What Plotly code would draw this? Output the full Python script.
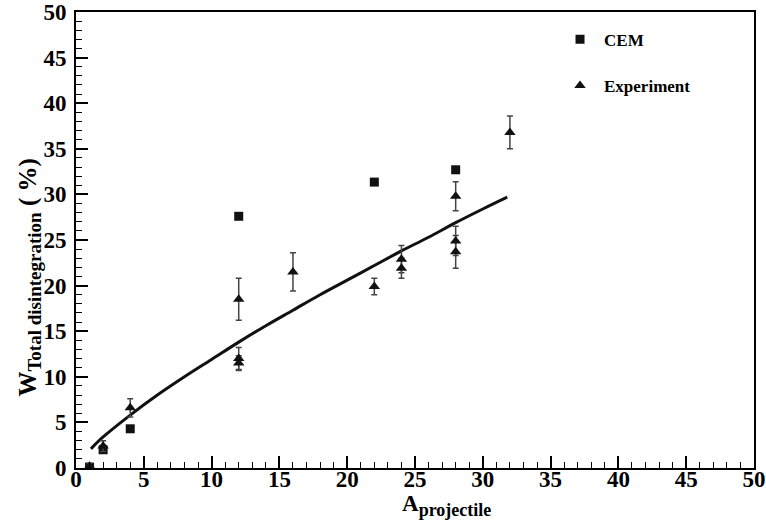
import plotly.graph_objects as go

# CEM calculation
cem_x = [1, 2, 4, 12, 22, 28]
cem_y = [0.1, 2.0, 4.3, 27.6, 31.35, 32.7]

# Experimental data
exp_x = [1, 2, 4, 12, 12, 12, 16, 22, 24, 24, 28, 28, 28, 32]
exp_y = [0.2, 2.4, 6.6, 18.5, 12.0, 11.5, 21.5, 19.9, 22.9, 21.9, 29.8, 24.9, 23.7, 36.8]
exp_err = [0.3, 0.6, 1.0, 2.3, 1.2, 0.8, 2.1, 0.9, 1.5, 1.1, 1.6, 1.6, 1.8, 1.8]

# Fit curve
fit_x = [1.1, 2, 4, 6, 8, 10, 12, 14, 16, 18, 20, 22, 24, 26, 28, 30, 31.8]
fit_y = [2.1, 3.4, 5.8, 8.0, 10.0, 11.9, 13.8, 15.6, 17.3, 19.0, 20.6, 22.2, 23.8, 25.3, 26.9, 28.4, 29.7]

x_ticks = [0, 5, 10, 15, 20, 25, 30, 35, 40, 45, 50]
y_ticks = [0, 5, 10, 15, 20, 25, 30, 35, 40, 45, 50]

FONT = "Liberation Serif"

fig = go.Figure()

fig.add_trace(go.Scatter(
    x=fit_x, y=fit_y, mode="lines", line=dict(color="#111111", width=3, shape="spline"),
    showlegend=False, hoverinfo="skip"))

fig.add_trace(go.Scatter(
    x=cem_x, y=cem_y, mode="markers", name="CEM",
    marker=dict(symbol="square", size=9, color="#111111"),
    legend="legend"))

fig.add_trace(go.Scatter(
    x=exp_x, y=exp_y, mode="markers", name="Experiment",
    marker=dict(symbol="triangle-up", size=10, color="#111111"),
    error_y=dict(type="data", array=exp_err, visible=True, color="#444444", thickness=1.5, width=3),
    legend="legend2"))

axis_common = dict(
    range=[0, 50], showgrid=False, zeroline=False, automargin=False,
    showline=True, linecolor="black", linewidth=2, mirror=True,
    ticks="inside", ticklen=12, tickwidth=1.5, tickcolor="black",
    tickfont=dict(family=FONT, size=23, color="black", weight="bold"),
    tickmode="array",
    minor=dict(ticks="inside", ticklen=6, tickwidth=1.2, tickcolor="black", dtick=1),
)

legend_font = dict(family=FONT, size=17, color="black", weight="bold")

fig.update_layout(
    width=766, height=527,
    margin=dict(l=76, r=12, t=12, b=59),
    paper_bgcolor="white", plot_bgcolor="white",
    font=dict(family=FONT, color="black"),
    xaxis=dict(**axis_common, tickvals=x_ticks, ticklabelstandoff=-11),
    yaxis=dict(**axis_common, tickvals=y_ticks, ticklabelstandoff=3),
    legend=dict(x=0.708, y=0.939, xanchor="left", yanchor="middle",
                bgcolor="rgba(0,0,0,0)", itemwidth=38, font=legend_font),
    legend2=dict(x=0.708, y=0.838, xanchor="left", yanchor="middle",
                 bgcolor="rgba(0,0,0,0)", itemwidth=38, font=legend_font),
    annotations=[
        dict(text="<b>A<sub><span style='font-size:18px'>projectile</span></sub></b>",
             xref="paper", yref="paper",
             x=0.546, y=-0.047, xanchor="center", yanchor="top", showarrow=False,
             font=dict(family=FONT, size=23, color="black")),
        dict(text="<b>W<sub><span style='font-size:19px'>Total disintegration</span></sub> ( %)</b>",
             xref="paper", yref="paper",
             x=-0.069, y=0.418, xanchor="center", yanchor="middle", textangle=-90,
             showarrow=False, font=dict(family=FONT, size=25, color="black")),
    ],
)

fig.write_html("out.html", config={"displayModeBar": False},
               post_script="document.body.style.margin='0';")
